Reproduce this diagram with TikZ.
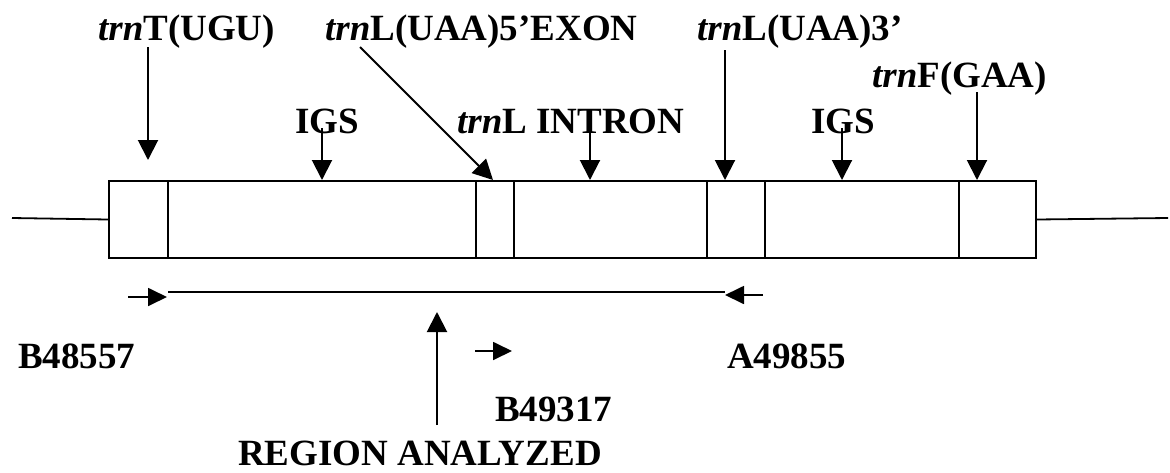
\documentclass[tikz,border=0pt]{standalone}
\usepackage{fontspec}
\setmainfont{Liberation Serif}
\usetikzlibrary{arrows.meta}
\begin{document}
\begin{tikzpicture}[x=1pt,y=-1pt,
  lbl/.style={anchor=base west, inner sep=0pt, font=\fontsize{37}{40}\selectfont\bfseries},
  seg/.style={draw, line width=2pt, minimum height=77pt, inner sep=0pt, anchor=north west},
  flank/.style={line width=1.8pt},
  big/.style={line width=2pt, -{Triangle[length=20pt,width=20pt]}},
  small/.style={line width=1.8pt, -{Triangle[length=19pt,width=18pt]}}]
\useasboundingbox (0,0) rectangle (1170,472);
% gene map boxes
\node[seg, minimum width=59pt]  (s1) at (108,180) {};
\node[seg, minimum width=308pt] (s2) at (167,180) {};
\node[seg, minimum width=38pt]  (s3) at (475,180) {};
\node[seg, minimum width=193pt] (s4) at (513,180) {};
\node[seg, minimum width=58pt]  (s5) at (706,180) {};
\node[seg, minimum width=194pt] (s6) at (764,180) {};
\node[seg, minimum width=77pt]  (s7) at (958,180) {};
\coordinate (lend) at (12,218);
\coordinate (rend) at (1168,218);
\draw[flank] (lend) -- (s1.west);
\draw[flank] (s7.east) -- (rend);
% top labels
\node[lbl] (tT)  at (98,40)  {\textit{trn}T(UGU)};
\node[lbl] (t5)  at (325,40) {\textit{trn}L(UAA)5’EXON};
\node[lbl] (t3)  at (697,40) {\textit{trn}L(UAA)3’};
\node[lbl] (tF)  at (872,87) {\textit{trn}F(GAA)};
\node[lbl] (ig1) at (295,133) {IGS};
\node[lbl] (tI)  at (457,133) {\textit{trn}L INTRON};
\node[lbl] (ig2) at (811,133) {IGS};
% arrow coordinates
\coordinate (aT0) at (148,47);  \coordinate (aT1) at (148,160);
\coordinate (a50) at (360,47);  \coordinate (a51) at (493,180);
\coordinate (g10) at (322,128); \coordinate (g11) at (322,180);
\coordinate (aI0) at (590,128); \coordinate (aI1) at (590,180);
\coordinate (a30) at (725,50);  \coordinate (a31) at (725,180);
\coordinate (g20) at (842,128); \coordinate (g21) at (842,180);
\coordinate (aF0) at (977,92);  \coordinate (aF1) at (977,180);
\draw[big] (aT0) -- (aT1);
\draw[big] (a50) -- (a51);
\draw[big] (g10) -- (g11);
\draw[big] (aI0) -- (aI1);
\draw[big] (a30) -- (a31);
\draw[big] (g20) -- (g21);
\draw[big] (aF0) -- (aF1);
% region analysed
\coordinate (r0) at (168,292); \coordinate (r1) at (725,292);
\draw[line width=2pt] (r0) -- (r1);
\coordinate (pL0) at (128,297); \coordinate (pL1) at (167,297);
\coordinate (pR0) at (763,295); \coordinate (pR1) at (725,295);
\coordinate (pM0) at (475,351); \coordinate (pM1) at (512,351);
\draw[small] (pL0) -- (pL1);
\draw[small] (pR0) -- (pR1);
\draw[small] (pM0) -- (pM1);
\node[lbl] (bA) at (18,368)  {B48557};
\node[lbl] (aA) at (727,368) {A49855};
\node[lbl] (bB) at (495,421) {B49317};
\node[lbl] (rg) at (238,465) {REGION ANALYZED};
\coordinate (u0) at (437,425); \coordinate (u1) at (437,312);
\draw[big] (u0) -- (u1);
\end{tikzpicture}
\end{document}
